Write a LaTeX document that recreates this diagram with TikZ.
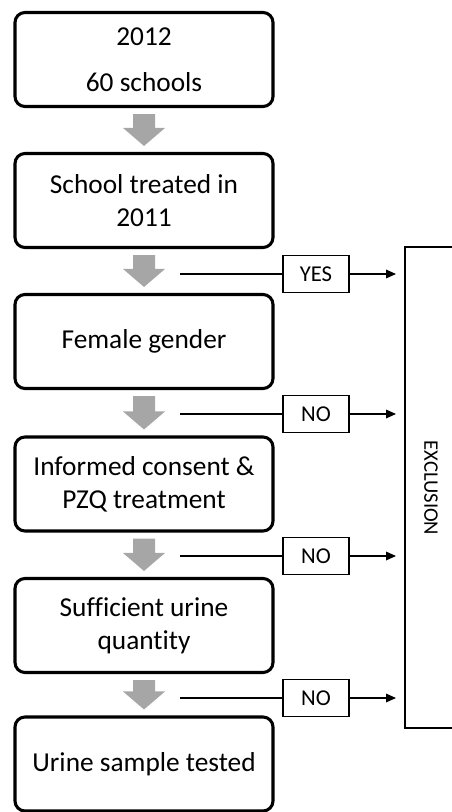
\documentclass[tikz,border=0pt]{standalone}
\usepackage{fontspec}
\setmainfont{Carlito}[Ligatures=NoCommon]
\usetikzlibrary{arrows.meta,calc}
\definecolor{arrowgray}{HTML}{A6A6A6}
\tikzset{
  stagebox/.style={draw, line width=2.3pt, rounded corners=7.5pt, minimum width=193.5pt,
    minimum height=70.5pt, align=center, font=\fontsize{20.5}{24.5}\selectfont, inner sep=2pt},
  answerbox/.style={draw, line width=0.8pt, minimum width=49.5pt, minimum height=27.5pt,
    inner sep=0pt, font=\fontsize{17}{20}\selectfont},
  thinline/.style={line width=0.9pt},
  exitarrow/.style={thinline, -{Triangle[length=7.5pt,width=6.5pt]}},
  grayarrow/.style={fill=arrowgray, draw=none}
}
\begin{document}
\begin{tikzpicture}[x=0.75pt,y=-0.75pt]
\useasboundingbox (0,0) rectangle (452,812);
% stage boxes
\node[stagebox] (b1) at (144,59.5) {2012\\[10pt]60 schools};
\node[stagebox] (b2) at (144,200.5) {School treated in\\2011};
\node[stagebox] (b3) at (144,341.5) {Female gender};
\node[stagebox] (b4) at (144,484) {Informed consent \&\\PZQ treatment};
\node[stagebox] (b5) at (144,625.5) {Sufficient urine\\quantity};
\node[stagebox] (b6) at (144,764) {Urine sample tested};
% gray down arrows between boxes
\foreach \a/\b in {b1/b2,b2/b3,b3/b4,b4/b5,b5/b6}{
  \path ([yshift=-4.5pt]\a.south) coordinate (top-\a)
        ([yshift=4.5pt]\b.north) coordinate (tip-\a);
  \fill[grayarrow] ($(top-\a)+(-11,0)$) -- ($(top-\a)+(11,0)$)
     -- ($(tip-\a)+(11,-18)$) -- ($(tip-\a)+(21,-18)$) -- (tip-\a)
     -- ($(tip-\a)+(-21,-18)$) -- ($(tip-\a)+(-11,-18)$) -- cycle;
}
% exclusion box (open to the right, cut by the picture edge)
\coordinate (exTR) at (452,247);
\coordinate (exTL) at (405,247);
\coordinate (exBL) at (405,728);
\coordinate (exBR) at (452,728);
\draw[thinline] (exTR) -- (exTL) -- (exBL) -- (exBR);
\node[rotate=-90, font=\fontsize{15.5}{18}\selectfont] (excl) at (431,488) {EXCLUSION};
% exit rows
\foreach \i/\y/\t in {1/274/YES,2/414/NO,3/556/NO,4/698/NO}{
  \coordinate (s\i) at (180,\y);
  \node[answerbox] (l\i) at (316,\y) {\t};
  \coordinate (e\i) at (396,\y);
  \draw[thinline] (s\i) -- (l\i);
  \draw[exitarrow] (l\i) -- (e\i);
}
\end{tikzpicture}
\end{document}
